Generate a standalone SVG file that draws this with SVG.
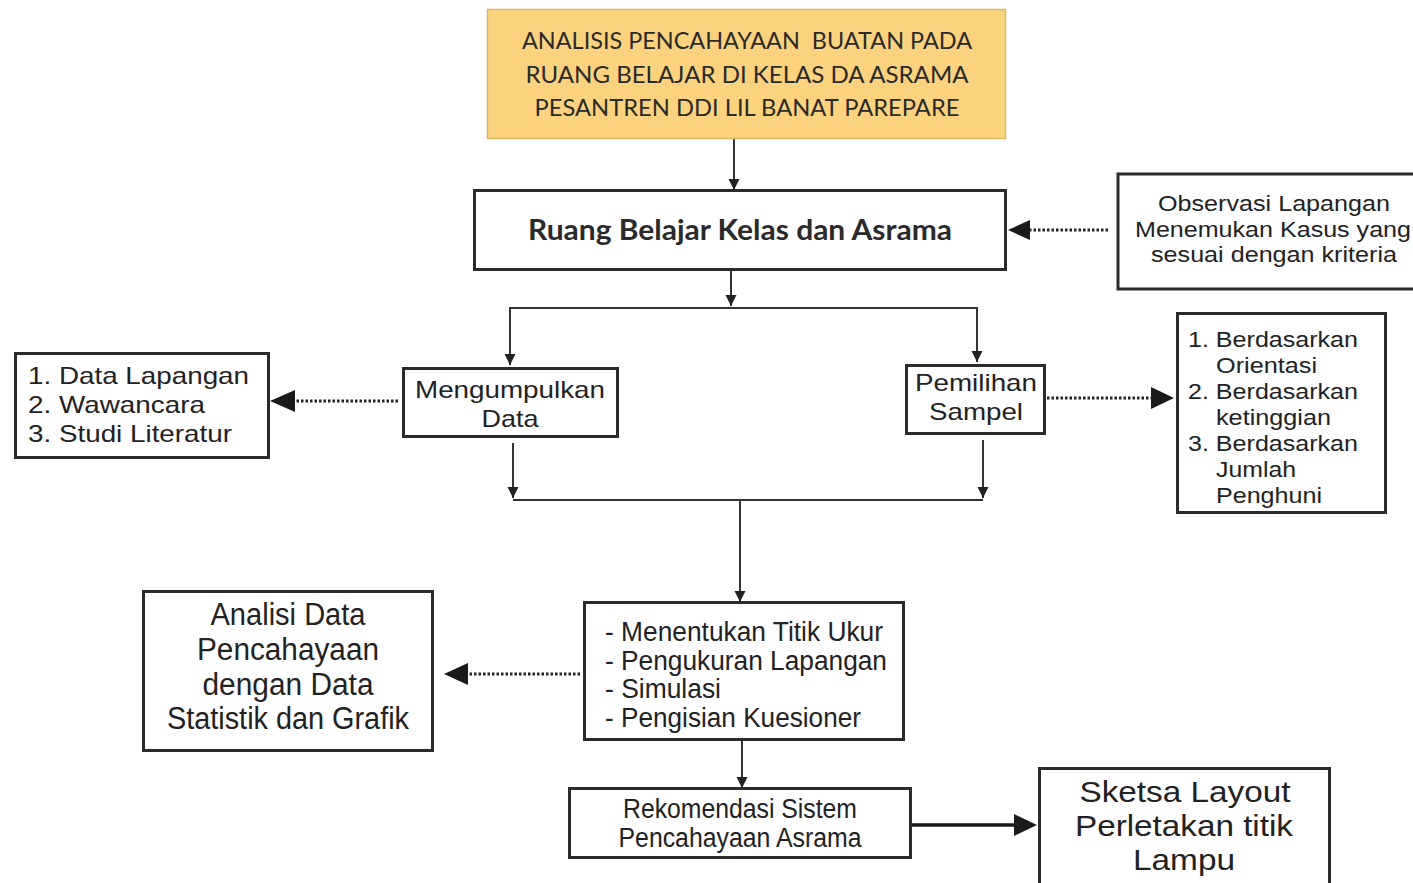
<svg xmlns="http://www.w3.org/2000/svg" width="1413" height="883" viewBox="0 0 1413 883">
<style>
.box{fill:#fff;stroke:#2b2b2b;stroke-width:3}
.t{font-family:"Liberation Sans",Arial,sans-serif;fill:#222}
.c{font-family:Lato,"Open Sans",sans-serif;fill:#2a2a2a}
.ln{fill:none;stroke:#333;stroke-width:2}
.dot{fill:none;stroke:#222;stroke-width:3;stroke-dasharray:2.5 2}
</style>
<defs>
<marker id="sm" viewBox="0 0 10 10" refX="10" refY="5" markerWidth="11" markerHeight="12" orient="auto" markerUnits="userSpaceOnUse"><path d="M0 0L10 5L0 10z" fill="#222"/></marker>
</defs>
<rect width="1413" height="883" fill="#fff"/>

<g id="connectors">
<path class="ln" d="M734 139V190" marker-end="url(#sm)"/>
<path class="ln" d="M731 270V306" marker-end="url(#sm)"/>
<path class="ln" d="M510 308H977M510 307V340M977 307V340"/>
<path class="ln" d="M510 340V365" marker-end="url(#sm)"/>
<path class="ln" d="M977 340V362" marker-end="url(#sm)"/>
<path class="ln" d="M513 443V498" marker-end="url(#sm)"/>
<path class="ln" d="M983 440V498" marker-end="url(#sm)"/>
<path class="ln" d="M513 500H983"/>
<path class="ln" d="M740 500V602" marker-end="url(#sm)"/>
<path class="ln" d="M742 740V788" marker-end="url(#sm)"/>
<path class="dot" d="M1108 230H1030"/>
<path fill="#1a1a1a" d="M1008 230L1030 220V240z"/>
<path class="dot" d="M398 401H295"/>
<path fill="#1a1a1a" d="M270 401L295 390V412z"/>
<path class="dot" d="M1047 398H1151"/>
<path fill="#1a1a1a" d="M1174 398L1151 387V409z"/>
<path class="dot" d="M580 674H468"/>
<path fill="#1a1a1a" d="M444 674L468 663V685z"/>
<path d="M911 825H1015" stroke="#1a1a1a" stroke-width="3.5" fill="none"/>
<path fill="#1a1a1a" d="M1037 825L1014 814V836z"/>
</g>

<g id="title">
<rect x="487.5" y="9.5" width="518" height="129" fill="#fbd37e" stroke="#e0b561" stroke-width="1.5"/>
<text class="c" text-anchor="middle" font-size="23" xml:space="preserve"><tspan x="747" y="49" textLength="450" lengthAdjust="spacingAndGlyphs">ANALISIS PENCAHAYAAN  BUATAN PADA</tspan><tspan x="747" y="83" textLength="443" lengthAdjust="spacingAndGlyphs">RUANG BELAJAR DI KELAS DA ASRAMA</tspan><tspan x="747" y="116" textLength="425" lengthAdjust="spacingAndGlyphs">PESANTREN DDI LIL BANAT PAREPARE</tspan></text>
</g>

<g id="ruang">
<rect class="box" x="474.5" y="190.5" width="531" height="79"/>
<text class="c" x="740" y="240" text-anchor="middle" font-size="28" font-weight="bold" fill="#111" textLength="424" lengthAdjust="spacingAndGlyphs">Ruang Belajar Kelas dan Asrama</text>
</g>

<g id="observasi">
<rect class="box" x="1118" y="174" width="300" height="115" stroke-width="4"/>
<text class="t" text-anchor="middle" font-size="22"><tspan x="1274" y="211" textLength="232" lengthAdjust="spacingAndGlyphs">Observasi Lapangan</tspan><tspan x="1273" y="237" textLength="276" lengthAdjust="spacingAndGlyphs">Menemukan Kasus yang</tspan><tspan x="1274" y="262" textLength="246" lengthAdjust="spacingAndGlyphs">sesuai dengan kriteria</tspan></text>
</g>

<g id="mengumpulkan">
<rect class="box" x="403.5" y="368.5" width="214" height="68"/>
<text class="t" text-anchor="middle" font-size="24"><tspan x="510" y="398" textLength="190" lengthAdjust="spacingAndGlyphs">Mengumpulkan</tspan><tspan x="510" y="427" textLength="57" lengthAdjust="spacingAndGlyphs">Data</tspan></text>
</g>

<g id="pemilihan">
<rect class="box" x="906.5" y="365.5" width="138" height="68"/>
<text class="t" text-anchor="middle" font-size="24"><tspan x="976" y="391" textLength="122" lengthAdjust="spacingAndGlyphs">Pemilihan</tspan><tspan x="976" y="420" textLength="94" lengthAdjust="spacingAndGlyphs">Sampel</tspan></text>
</g>

<g id="datalist">
<rect class="box" x="15.5" y="353.5" width="253" height="104"/>
<text class="t" font-size="24"><tspan x="28" y="384" textLength="221" lengthAdjust="spacingAndGlyphs">1. Data Lapangan</tspan><tspan x="28" y="413" textLength="177" lengthAdjust="spacingAndGlyphs">2. Wawancara</tspan><tspan x="28" y="442" textLength="204" lengthAdjust="spacingAndGlyphs">3. Studi Literatur</tspan></text>
</g>

<g id="berdasarkan">
<rect class="box" x="1177.5" y="313.5" width="208" height="199"/>
<text class="t" font-size="22"><tspan x="1188" y="347" textLength="170" lengthAdjust="spacingAndGlyphs">1. Berdasarkan</tspan><tspan x="1216" y="373" textLength="101" lengthAdjust="spacingAndGlyphs">Orientasi</tspan><tspan x="1188" y="399" textLength="170" lengthAdjust="spacingAndGlyphs">2. Berdasarkan</tspan><tspan x="1216" y="425" textLength="115" lengthAdjust="spacingAndGlyphs">ketinggian</tspan><tspan x="1188" y="451" textLength="170" lengthAdjust="spacingAndGlyphs">3. Berdasarkan</tspan><tspan x="1216" y="477" textLength="80" lengthAdjust="spacingAndGlyphs">Jumlah</tspan><tspan x="1216" y="503" textLength="106" lengthAdjust="spacingAndGlyphs">Penghuni</tspan></text>
</g>

<g id="pengukuran">
<rect class="box" x="584.5" y="602.5" width="319" height="137"/>
<text class="t" font-size="27"><tspan x="605" y="641" textLength="278" lengthAdjust="spacingAndGlyphs">- Menentukan Titik Ukur</tspan><tspan x="605" y="670" textLength="282" lengthAdjust="spacingAndGlyphs">- Pengukuran Lapangan</tspan><tspan x="605" y="698" textLength="116" lengthAdjust="spacingAndGlyphs">- Simulasi</tspan><tspan x="605" y="727" textLength="256" lengthAdjust="spacingAndGlyphs">- Pengisian Kuesioner</tspan></text>
</g>

<g id="analisi">
<rect class="box" x="143.5" y="591.5" width="289" height="159"/>
<text class="t" text-anchor="middle" font-size="31"><tspan x="288" y="625" textLength="155" lengthAdjust="spacingAndGlyphs">Analisi Data</tspan><tspan x="288" y="660" textLength="182" lengthAdjust="spacingAndGlyphs">Pencahayaan</tspan><tspan x="288" y="695" textLength="171" lengthAdjust="spacingAndGlyphs">dengan Data</tspan><tspan x="288" y="729" textLength="242" lengthAdjust="spacingAndGlyphs">Statistik dan Grafik</tspan></text>
</g>

<g id="rekomendasi">
<rect class="box" x="569.5" y="788.5" width="341" height="69"/>
<text class="t" text-anchor="middle" font-size="27"><tspan x="740" y="818" textLength="234" lengthAdjust="spacingAndGlyphs">Rekomendasi Sistem</tspan><tspan x="740" y="847" textLength="243" lengthAdjust="spacingAndGlyphs">Pencahayaan Asrama</tspan></text>
</g>

<g id="sketsa">
<rect class="box" x="1039.5" y="768.5" width="290" height="125" stroke-width="5"/>
<text class="t" text-anchor="middle" font-size="30"><tspan x="1185" y="802" textLength="211" lengthAdjust="spacingAndGlyphs">Sketsa Layout</tspan><tspan x="1184" y="836" textLength="218" lengthAdjust="spacingAndGlyphs">Perletakan titik</tspan><tspan x="1184" y="870" textLength="102" lengthAdjust="spacingAndGlyphs">Lampu</tspan></text>
</g>
</svg>
